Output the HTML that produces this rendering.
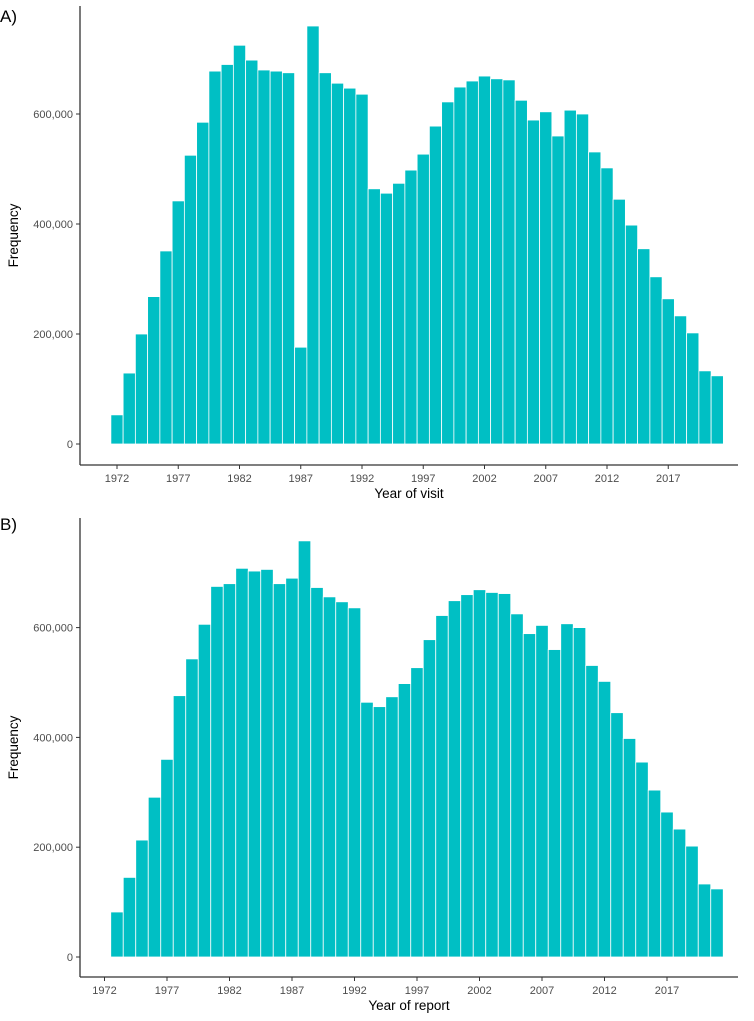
<!DOCTYPE html>
<html><head><meta charset="utf-8"><style>
body{margin:0;background:#fff;width:754px;height:1016px;overflow:hidden}
svg{font-family:"Liberation Sans",sans-serif}
</style></head><body>
<svg id="c" width="754" height="1016"></svg>
<script>
const yearsA = [1972,1973,1974,1975,1976,1977,1978,1979,1980,1981,1982,1983,1984,1985,1986,1987,1988,1989,1990,1991,1992,1993,1994,1995,1996,1997,1998,1999,2000,2001,2002,2003,2004,2005,2006,2007,2008,2009,2010,2011,2012,2013,2014,2015,2016,2017,2018,2019,2020,2021];
const valuesA = [53,129,200,268,351,442,525,585,678,690,725,698,680,678,675,176,760,675,656,647,636,464,456,474,498,527,578,622,649,660,669,664,662,625,589,604,560,607,600,531,502,445,398,355,304,264,233,202,133,124];
const yearsB = [1973,1974,1975,1976,1977,1978,1979,1980,1981,1982,1983,1984,1985,1986,1987,1988,1989,1990,1991,1992,1993,1994,1995,1996,1997,1998,1999,2000,2001,2002,2003,2004,2005,2006,2007,2008,2009,2010,2011,2012,2013,2014,2015,2016,2017,2018,2019,2020,2021];
const valuesB = [82,145,213,291,360,476,543,606,675,680,708,703,706,680,690,758,673,656,647,636,464,456,474,498,527,578,622,649,660,669,664,662,625,589,604,560,607,600,531,502,445,398,355,304,264,233,202,133,124];
const xTicks = [1972,1977,1982,1987,1992,1997,2002,2007,2012,2017];
const yTicks = [0,200,400,600];
const yTickLabels = ["0","200,000","400,000","600,000"];

const NS="http://www.w3.org/2000/svg";
const svg=document.getElementById('c');
function mk(t,a,p){const e=document.createElementNS(NS,t);for(const k in a)e.setAttribute(k,a[k]);(p||svg).appendChild(e);return e;}

function panel(o){
  const g=mk('g',{});
  
  
  const x=v=>o.x0+(v-1972)*o.px;
  const y=v=>o.y0-v*o.py;
  const bw=o.px;
  o.years.forEach((yr,i)=>{
    const r=mk('rect',{x:x(yr)-bw/2,y:y(o.vals[i]),width:bw,height:o.vals[i]*o.py,fill:'#00BFC4',stroke:'#ffffff','stroke-width':0.8},g);
    
    
  });
  mk('line',{x1:80,y1:o.top,x2:80,y2:o.axY,stroke:'#333','stroke-width':1.3},g);
  mk('line',{x1:80,y1:o.axY,x2:738,y2:o.axY,stroke:'#333','stroke-width':1.3},g);
  yTicks.forEach((v,i)=>{
    mk('line',{x1:76,y1:y(v),x2:80,y2:y(v),stroke:'#333'},g);
    const t=mk('text',{x:73,y:y(v)+4,'text-anchor':'end','font-size':11,fill:'#4d4d4d'},g);
    t.textContent=yTickLabels[i];
    
    
  });
  xTicks.forEach(v=>{
    mk('line',{x1:x(v),y1:o.axY,x2:x(v),y2:o.axY+4,stroke:'#333'},g);
    const t=mk('text',{x:x(v),y:o.axY+17,'text-anchor':'middle','font-size':11,fill:'#4d4d4d'},g);
    t.textContent=v;
    
    
  });
  const xt=mk('text',{x:409,y:o.axY+33,'text-anchor':'middle','font-size':13.5,fill:'#000'},g);
  xt.textContent=o.xtitle;
  
  
  const yc=(o.top+o.axY)/2;
  const yt=mk('text',{x:18,y:yc,'text-anchor':'middle','font-size':13.5,fill:'#000',transform:'rotate(-90 18 '+yc+')'},g);
  yt.textContent='Frequency';
  
  
  const pl=mk('text',{x:0,y:o.labelY,'font-size':17,fill:'#000'},g);
  pl.textContent=o.label;
  
  
}
panel({name:'panel-a',years:yearsA,vals:valuesA,x0:117,px:12.25,y0:444,py:0.55,top:6,axY:465,xtitle:'Year of visit',label:'A)',labelY:22});
panel({name:'panel-b',years:yearsB,vals:valuesB,x0:104.5,px:12.5,y0:957,py:0.549,top:518,axY:977,xtitle:'Year of report',label:'B)',labelY:530});
</script>
</body></html>
